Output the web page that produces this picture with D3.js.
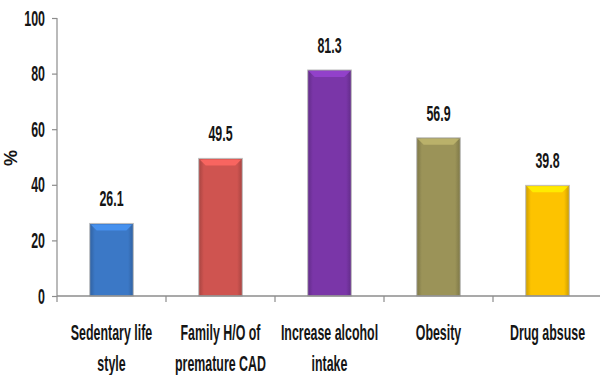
<!DOCTYPE html>
<html lang="en">

<head>
    <script src='https://d3js.org/d3.v7.min.js'></script>
    <style>
        body { margin: 0; background: #fff; }
        text { font-family: "Liberation Sans", Arial, sans-serif; font-weight: bold; fill: #151515; }
    </style>
</head>

<body>

    <script>

        const categories = [["Sedentary life", "style"], ["Family H/O of", "premature CAD"], ["Increase alcohol", "intake"], ["Obesity"], ["Drug absuse"]];
        const values = [26.1, 49.5, 81.3, 56.9, 39.8];
        const colors = ["#3b78c6", "#cf5450", "#7a36a8", "#9b9358", "#fdc300"];
        const yTicks = [0, 20, 40, 60, 80, 100];

        const width = 600;
        const height = 375;
        const plotLeft = 57, plotRight = 602, plotTop = 18, plotBottom = 296;
        const sx = 0.62, sy = 1.08; // narrow, tall bold look of the original font
        const squeeze = "scale(" + sx + "," + sy + ")";

        const svg = d3.select("body")
            .append("svg")
            .attr("width", width)
            .attr("height", height);

        const x = d3.scaleBand()
            .domain(d3.range(values.length))
            .range([plotLeft, plotRight])
            .paddingInner(0.6)
            .paddingOuter(0.3);

        const y = d3.scaleLinear()
            .domain([0, 100])
            .range([plotBottom, plotTop]);

        // bevel-ish gradients
        const defs = svg.append("defs");
        colors.forEach(function (c, i) {
            var g = defs.append("linearGradient")
                .attr("id", "grad" + i)
                .attr("x1", "0%").attr("x2", "100%").attr("y1", "0%").attr("y2", "0%");
            g.append("stop").attr("offset", "0%").attr("stop-color", d3.color(c).darker(0.6));
            g.append("stop").attr("offset", "12%").attr("stop-color", c);
            g.append("stop").attr("offset", "88%").attr("stop-color", c);
            g.append("stop").attr("offset", "100%").attr("stop-color", d3.color(c).darker(0.6));
        });

        // y axis
        const yAxis = d3.axisLeft(y)
            .tickValues(yTicks)
            .tickSize(5)
            .tickPadding(7);

        const ga = svg.append("g")
            .attr("transform", "translate(" + plotLeft + ",0)")
            .call(yAxis);
        ga.select(".domain").remove();
        ga.append("line")
            .attr("y1", plotTop).attr("y2", plotBottom)
            .attr("stroke", "#8c8c8c").attr("stroke-width", 1.2);
        ga.selectAll("line").attr("stroke", "#8c8c8c").attr("stroke-width", 1.2);
        ga.selectAll(".tick text")
            .attr("x", 0)
            .attr("dy", null)
            .attr("transform", "translate(-12,7) " + squeeze)
            .style("font-size", "20px")
            .style("font-family", "'Liberation Sans', Arial, sans-serif")
            .style("font-weight", "bold")
            .attr("fill", "#151515");

        // bars
        const bars = svg.selectAll(".bar")
            .data(values)
            .enter()
            .append("g");

        bars.append("rect")
            .attr("x", function (d, i) { return x(i); })
            .attr("y", function (d) { return y(d); })
            .attr("width", x.bandwidth())
            .attr("height", function (d) { return y(0) - y(d); })
            .attr("fill", function (d, i) { return "url(#grad" + i + ")"; })
            .attr("stroke", "#bdbdbd")
            .attr("stroke-width", 1);

        // lighter bevel on top
        bars.append("path")
            .attr("d", function (d, i) {
                var x0 = x(i) + 1, x1 = x(i) + x.bandwidth() - 1, t = y(d) + 1;
                return "M" + x0 + "," + t + "L" + x1 + "," + t + "L" + (x1 - 6) + "," + (t + 6) + "L" + (x0 + 6) + "," + (t + 6) + "Z";
            })
            .attr("fill", function (d, i) { return d3.color(colors[i]).brighter(0.6); })
            .attr("opacity", 0.85);

        bars.append("text")
            .attr("transform", function (d, i) {
                return "translate(" + (x(i) + x.bandwidth() / 2) + "," + (y(d) - 17) + ") " + squeeze;
            })
            .attr("text-anchor", "middle")
            .style("font-size", "20px")
            .text(function (d) { return d.toFixed(1); });

        // x axis line + ticks at category boundaries
        const step = x.step();
        svg.append("line")
            .attr("x1", plotLeft).attr("x2", plotRight)
            .attr("y1", plotBottom).attr("y2", plotBottom)
            .attr("stroke", "#8c8c8c").attr("stroke-width", 1.5);

        const bounds = d3.range(1, values.length).map(function (i) { return plotLeft + i * step; });
        svg.selectAll(".xtick")
            .data([plotLeft].concat(bounds))
            .enter()
            .append("line")
            .attr("x1", function (d) { return d; }).attr("x2", function (d) { return d; })
            .attr("y1", plotBottom).attr("y2", plotBottom + 6)
            .attr("stroke", "#8c8c8c").attr("stroke-width", 1.2);

        // category labels
        const labels = svg.selectAll(".cat")
            .data(categories)
            .enter()
            .append("text")
            .attr("transform", function (d, i) {
                return "translate(" + (x(i) + x.bandwidth() / 2) + ",340) " + squeeze;
            })
            .attr("text-anchor", "middle")
            .style("font-size", "20px");

        labels.selectAll("tspan")
            .data(function (d) { return d; })
            .enter()
            .append("tspan")
            .attr("x", 0)
            .attr("y", function (d, j) { return j * 31 / sy; })
            .text(function (d) { return d; });

        // y title
        svg.append("text")
            .attr("transform", "translate(17,158) rotate(-90)")
            .attr("text-anchor", "middle")
            .style("font-size", "18px")
            .text("%");

    </script>

</body>

</html>
